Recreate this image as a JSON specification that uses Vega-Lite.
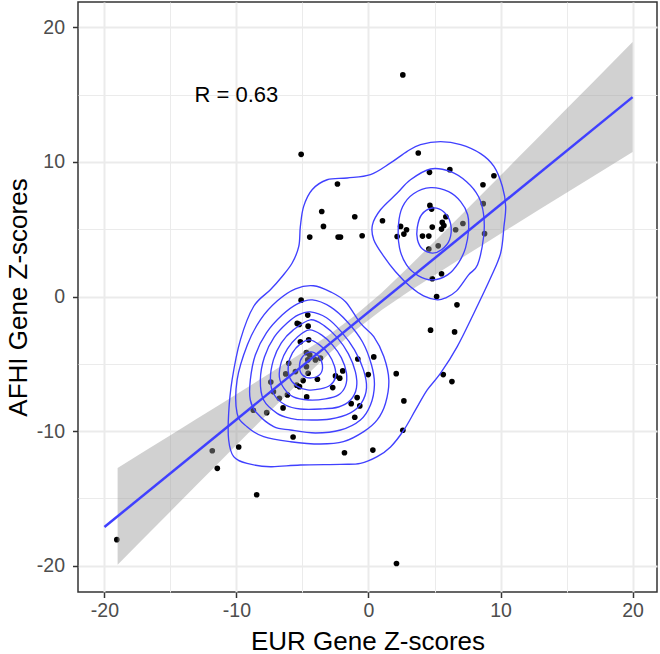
{
  "$schema": "https://vega.github.io/schema/vega-lite/v6.json",
  "width": 579,
  "height": 590,
  "autosize": "none",
  "padding": {"left": 78, "top": 2, "right": 3, "bottom": 62},
  "background": "white",
  "config": {
    "view": {"stroke": "#333333", "strokeWidth": 1.5},
    "axis": {
      "domain": false,
      "gridColor": "#EBEBEB",
      "tickColor": "#333333",
      "tickWidth": 1.5,
      "tickSize": 5.5,
      "labelFont": "Liberation Sans",
      "labelFontSize": 19.5,
      "labelColor": "#4D4D4D",
      "titleFont": "Liberation Sans",
      "titleFontSize": 26,
      "titleFontWeight": "normal",
      "titleColor": "#000000"
    }
  },
  "datasets": {
    "pts": [
      {"x": -19.06, "y": -18.07}, {"x": -11.83, "y": -11.46}, {"x": -11.45, "y": -12.77}, {"x": -9.83, "y": -11.18},
      {"x": -8.47, "y": -14.73}, {"x": -8.72, "y": -8.45}, {"x": -7.71, "y": -8.63}, {"x": -7.4, "y": -6.35},
      {"x": -7.2, "y": -7.07}, {"x": -6.75, "y": -7.56}, {"x": -6.47, "y": -8.28}, {"x": -6.14, "y": -7.31},
      {"x": -5.1, "y": -0.27}, {"x": -4.6, "y": -1.38}, {"x": -5.25, "y": -2.07}, {"x": -5.4, "y": -2.0},
      {"x": -4.57, "y": -2.2}, {"x": -5.16, "y": -3.37}, {"x": -4.53, "y": -3.22}, {"x": -4.7, "y": -4.17},
      {"x": -4.45, "y": -4.34}, {"x": -4.02, "y": -4.71}, {"x": -3.64, "y": -4.58}, {"x": -4.6, "y": -4.71},
      {"x": -4.7, "y": -5.21}, {"x": -4.57, "y": -5.7}, {"x": -6.04, "y": -4.96}, {"x": -5.53, "y": -5.58},
      {"x": -6.27, "y": -5.75}, {"x": -4.95, "y": -6.25}, {"x": -5.44, "y": -6.59}, {"x": -5.23, "y": -6.7},
      {"x": -3.87, "y": -6.15}, {"x": -4.68, "y": -7.46}, {"x": -2.71, "y": -6.77}, {"x": -2.5, "y": -5.9},
      {"x": -2.18, "y": -6.07}, {"x": -1.95, "y": -5.53}, {"x": -0.81, "y": -4.64}, {"x": 0.4, "y": -4.49},
      {"x": -0.02, "y": -5.8}, {"x": 2.1, "y": -5.73}, {"x": -0.86, "y": -7.51}, {"x": -1.31, "y": -7.96},
      {"x": -0.66, "y": -8.13}, {"x": -1.04, "y": -8.97}, {"x": -5.71, "y": -10.44}, {"x": -1.82, "y": -11.61},
      {"x": 0.33, "y": -11.41}, {"x": 2.12, "y": -19.84}, {"x": 5.16, "y": 0.0}, {"x": 6.7, "y": -0.62},
      {"x": 4.7, "y": -2.5}, {"x": 6.52, "y": -2.63}, {"x": 5.66, "y": -5.8}, {"x": 6.32, "y": -6.32},
      {"x": 2.68, "y": -7.76}, {"x": 2.6, "y": -9.94}, {"x": 3.77, "y": 10.67}, {"x": 4.62, "y": 9.23},
      {"x": 6.16, "y": 9.43}, {"x": 9.5, "y": 8.98}, {"x": 8.67, "y": 8.31}, {"x": 8.69, "y": 6.9},
      {"x": 8.79, "y": 4.67}, {"x": 7.15, "y": 5.43}, {"x": 4.65, "y": 6.77}, {"x": 4.78, "y": 6.5},
      {"x": 5.86, "y": 5.93}, {"x": 5.59, "y": 5.51}, {"x": 5.71, "y": 5.28}, {"x": 5.53, "y": 5.01},
      {"x": 4.83, "y": 5.16}, {"x": 6.6, "y": 4.96}, {"x": 4.09, "y": 4.49}, {"x": 4.57, "y": 4.49},
      {"x": 5.28, "y": 3.77}, {"x": 4.57, "y": 3.53}, {"x": 5.53, "y": 1.69}, {"x": 4.83, "y": 1.32},
      {"x": 1.06, "y": 5.63}, {"x": 2.43, "y": 5.21}, {"x": 2.88, "y": 4.96}, {"x": 2.17, "y": 4.46},
      {"x": 2.68, "y": 4.64}, {"x": -0.48, "y": 4.52}, {"x": -5.1, "y": 10.57}, {"x": -2.35, "y": 8.36},
      {"x": -3.54, "y": 6.32}, {"x": -3.41, "y": 5.21}, {"x": -1.04, "y": 5.93}, {"x": -4.45, "y": 4.42},
      {"x": -2.3, "y": 4.42}, {"x": -2.12, "y": 4.42}, {"x": 2.6, "y": 16.47}
    ],
    "band": [
      {"x": -19, "y": -19.94, "y2": -12.74}, {"x": -17, "y": -17.95, "y2": -11.52}, {"x": -15, "y": -15.97, "y2": -10.31},
      {"x": -13, "y": -13.99, "y2": -9.09}, {"x": -11, "y": -12.02, "y2": -7.87}, {"x": -9, "y": -10.05, "y2": -6.65},
      {"x": -7, "y": -8.08, "y2": -5.41}, {"x": -5, "y": -6.14, "y2": -4.16}, {"x": -3, "y": -4.25, "y2": -2.85},
      {"x": -1, "y": -2.5, "y2": -1.4}, {"x": 1, "y": -1.0, "y2": 0.29}, {"x": 3, "y": 0.33, "y2": 2.16},
      {"x": 5, "y": 1.59, "y2": 4.09}, {"x": 7, "y": 2.83, "y2": 6.05}, {"x": 9, "y": 4.06, "y2": 8.01},
      {"x": 11, "y": 5.28, "y2": 9.99}, {"x": 13, "y": 6.5, "y2": 11.97}, {"x": 15, "y": 7.71, "y2": 13.95},
      {"x": 17, "y": 8.93, "y2": 15.93}, {"x": 20, "y": 10.74, "y2": 18.91}
    ],
    "fit": [{"x": -20, "y": -17.13}, {"x": 20, "y": 14.82}],
    "contours": [
      {"ring": "outer", "k": 1, "x": -7.43, "y": 0.5}, {"ring": "outer", "k": 2, "x": -8.7, "y": -0.74},
      {"ring": "outer", "k": 3, "x": -9.7, "y": -3.22}, {"ring": "outer", "k": 4, "x": -10.33, "y": -6.2},
      {"ring": "outer", "k": 5, "x": -10.59, "y": -8.68}, {"ring": "outer", "k": 6, "x": -10.59, "y": -10.66},
      {"ring": "outer", "k": 7, "x": -10.21, "y": -11.9}, {"ring": "outer", "k": 8, "x": -9.2, "y": -12.4},
      {"ring": "outer", "k": 9, "x": -7.43, "y": -12.65}, {"ring": "outer", "k": 10, "x": -5.16, "y": -12.52},
      {"ring": "outer", "k": 11, "x": -2.12, "y": -12.47}, {"ring": "outer", "k": 12, "x": -0.61, "y": -12.4},
      {"ring": "outer", "k": 13, "x": 0.66, "y": -11.9}, {"ring": "outer", "k": 14, "x": 1.67, "y": -11.18},
      {"ring": "outer", "k": 15, "x": 2.68, "y": -9.92}, {"ring": "outer", "k": 16, "x": 3.56, "y": -8.43},
      {"ring": "outer", "k": 17, "x": 4.45, "y": -6.94}, {"ring": "outer", "k": 18, "x": 5.46, "y": -5.7},
      {"ring": "outer", "k": 19, "x": 6.72, "y": -3.72}, {"ring": "outer", "k": 20, "x": 7.98, "y": -1.24},
      {"ring": "outer", "k": 21, "x": 9.25, "y": 1.39}, {"ring": "outer", "k": 22, "x": 10.01, "y": 3.23},
      {"ring": "outer", "k": 23, "x": 10.26, "y": 5.21}, {"ring": "outer", "k": 24, "x": 10.39, "y": 6.7},
      {"ring": "outer", "k": 25, "x": 10.14, "y": 8.18}, {"ring": "outer", "k": 26, "x": 9.5, "y": 9.67},
      {"ring": "outer", "k": 27, "x": 8.49, "y": 10.62}, {"ring": "outer", "k": 28, "x": 6.98, "y": 11.29},
      {"ring": "outer", "k": 29, "x": 5.46, "y": 11.51}, {"ring": "outer", "k": 30, "x": 3.94, "y": 11.29},
      {"ring": "outer", "k": 31, "x": 2.93, "y": 10.79}, {"ring": "outer", "k": 32, "x": 1.67, "y": 9.93},
      {"ring": "outer", "k": 33, "x": 0.15, "y": 9.06}, {"ring": "outer", "k": 34, "x": -1.61, "y": 8.81},
      {"ring": "outer", "k": 35, "x": -3.13, "y": 8.68}, {"ring": "outer", "k": 36, "x": -4.27, "y": 7.94},
      {"ring": "outer", "k": 37, "x": -4.91, "y": 6.7}, {"ring": "outer", "k": 38, "x": -5.16, "y": 5.21},
      {"ring": "outer", "k": 39, "x": -5.28, "y": 3.72}, {"ring": "outer", "k": 40, "x": -5.78, "y": 2.49},
      {"ring": "outer", "k": 41, "x": -6.54, "y": 1.49},

      {"ring": "A", "k": 1, "x": -4.17, "y": 0.8}, {"ring": "A", "k": 2, "x": -2.88, "y": 0.35},
      {"ring": "A", "k": 3, "x": -1.74, "y": -0.39}, {"ring": "A", "k": 4, "x": -0.61, "y": -1.98},
      {"ring": "A", "k": 5, "x": 0.4, "y": -2.98}, {"ring": "A", "k": 6, "x": 1.16, "y": -4.46},
      {"ring": "A", "k": 7, "x": 1.54, "y": -6.2}, {"ring": "A", "k": 8, "x": 1.29, "y": -7.93},
      {"ring": "A", "k": 9, "x": 0.66, "y": -9.17}, {"ring": "A", "k": 10, "x": -0.36, "y": -10.04},
      {"ring": "A", "k": 11, "x": -1.9, "y": -10.79}, {"ring": "A", "k": 12, "x": -3.64, "y": -10.96},
      {"ring": "A", "k": 13, "x": -5.91, "y": -10.79}, {"ring": "A", "k": 14, "x": -7.94, "y": -10.42},
      {"ring": "A", "k": 15, "x": -9.2, "y": -9.67}, {"ring": "A", "k": 16, "x": -9.95, "y": -8.68},
      {"ring": "A", "k": 17, "x": -9.95, "y": -6.2}, {"ring": "A", "k": 18, "x": -9.17, "y": -3.59},
      {"ring": "A", "k": 19, "x": -8.19, "y": -1.73}, {"ring": "A", "k": 20, "x": -6.9, "y": -0.32},
      {"ring": "A", "k": 21, "x": -5.53, "y": 0.57},

      {"ring": "B", "k": 1, "x": -4.25, "y": -0.25}, {"ring": "B", "k": 2, "x": -2.88, "y": -0.77},
      {"ring": "B", "k": 3, "x": -1.59, "y": -1.89}, {"ring": "B", "k": 4, "x": -0.45, "y": -3.38},
      {"ring": "B", "k": 5, "x": 0.23, "y": -5.09}, {"ring": "B", "k": 6, "x": 0.45, "y": -6.57},
      {"ring": "B", "k": 7, "x": 0.15, "y": -8.06}, {"ring": "B", "k": 8, "x": -0.61, "y": -9.17},
      {"ring": "B", "k": 9, "x": -2.12, "y": -9.92}, {"ring": "B", "k": 10, "x": -4.02, "y": -10.14},
      {"ring": "B", "k": 11, "x": -5.91, "y": -9.92}, {"ring": "B", "k": 12, "x": -7.18, "y": -9.67},
      {"ring": "B", "k": 13, "x": -8.44, "y": -8.68}, {"ring": "B", "k": 14, "x": -8.95, "y": -7.69},
      {"ring": "B", "k": 15, "x": -8.95, "y": -6.2}, {"ring": "B", "k": 16, "x": -8.57, "y": -4.34},
      {"ring": "B", "k": 17, "x": -7.73, "y": -2.7}, {"ring": "B", "k": 18, "x": -6.52, "y": -1.36},
      {"ring": "B", "k": 19, "x": -5.38, "y": -0.54},

      {"ring": "C", "k": 1, "x": -4.4, "y": -1.14}, {"ring": "C", "k": 2, "x": -3.18, "y": -1.58},
      {"ring": "C", "k": 3, "x": -2.05, "y": -2.63}, {"ring": "C", "k": 4, "x": -1.06, "y": -3.97},
      {"ring": "C", "k": 5, "x": -0.38, "y": -5.45}, {"ring": "C", "k": 6, "x": -0.15, "y": -6.79},
      {"ring": "C", "k": 7, "x": -0.53, "y": -7.91}, {"ring": "C", "k": 8, "x": -1.36, "y": -8.65},
      {"ring": "C", "k": 9, "x": -2.88, "y": -9.1}, {"ring": "C", "k": 10, "x": -4.78, "y": -9.17},
      {"ring": "C", "k": 11, "x": -5.91, "y": -9.05}, {"ring": "C", "k": 12, "x": -6.92, "y": -8.68},
      {"ring": "C", "k": 13, "x": -7.94, "y": -7.69}, {"ring": "C", "k": 14, "x": -8.19, "y": -6.2},
      {"ring": "C", "k": 15, "x": -7.88, "y": -4.49}, {"ring": "C", "k": 16, "x": -7.13, "y": -3.0},
      {"ring": "C", "k": 17, "x": -6.14, "y": -1.95}, {"ring": "C", "k": 18, "x": -5.31, "y": -1.36},

      {"ring": "D", "k": 1, "x": -4.4, "y": -1.73}, {"ring": "D", "k": 2, "x": -3.34, "y": -2.18},
      {"ring": "D", "k": 3, "x": -2.35, "y": -3.07}, {"ring": "D", "k": 4, "x": -1.52, "y": -4.26},
      {"ring": "D", "k": 5, "x": -0.99, "y": -5.6}, {"ring": "D", "k": 6, "x": -0.91, "y": -6.79},
      {"ring": "D", "k": 7, "x": -1.36, "y": -7.69}, {"ring": "D", "k": 8, "x": -2.27, "y": -8.21},
      {"ring": "D", "k": 9, "x": -3.64, "y": -8.36}, {"ring": "D", "k": 10, "x": -5.16, "y": -8.36},
      {"ring": "D", "k": 11, "x": -6.29, "y": -8.06}, {"ring": "D", "k": 12, "x": -7.13, "y": -7.32},
      {"ring": "D", "k": 13, "x": -7.43, "y": -6.2}, {"ring": "D", "k": 14, "x": -7.2, "y": -4.71},
      {"ring": "D", "k": 15, "x": -6.6, "y": -3.44}, {"ring": "D", "k": 16, "x": -5.69, "y": -2.48},

      {"ring": "E", "k": 1, "x": -4.47, "y": -2.48}, {"ring": "E", "k": 2, "x": -3.56, "y": -2.85},
      {"ring": "E", "k": 3, "x": -2.73, "y": -3.59}, {"ring": "E", "k": 4, "x": -2.05, "y": -4.56},
      {"ring": "E", "k": 5, "x": -1.67, "y": -5.68}, {"ring": "E", "k": 6, "x": -1.74, "y": -6.64},
      {"ring": "E", "k": 7, "x": -2.27, "y": -7.31}, {"ring": "E", "k": 8, "x": -3.26, "y": -7.61},
      {"ring": "E", "k": 9, "x": -4.55, "y": -7.69}, {"ring": "E", "k": 10, "x": -5.69, "y": -7.46},
      {"ring": "E", "k": 11, "x": -6.37, "y": -6.87}, {"ring": "E", "k": 12, "x": -6.75, "y": -5.98},
      {"ring": "E", "k": 13, "x": -6.6, "y": -4.86}, {"ring": "E", "k": 14, "x": -6.14, "y": -3.89},
      {"ring": "E", "k": 15, "x": -5.38, "y": -3.0},

      {"ring": "F", "k": 1, "x": -4.47, "y": -3.22}, {"ring": "F", "k": 2, "x": -3.71, "y": -3.59},
      {"ring": "F", "k": 3, "x": -3.03, "y": -4.26}, {"ring": "F", "k": 4, "x": -2.58, "y": -5.16},
      {"ring": "F", "k": 5, "x": -2.5, "y": -5.98}, {"ring": "F", "k": 6, "x": -2.88, "y": -6.57},
      {"ring": "F", "k": 7, "x": -3.64, "y": -6.87}, {"ring": "F", "k": 8, "x": -4.62, "y": -6.94},
      {"ring": "F", "k": 9, "x": -5.46, "y": -6.64}, {"ring": "F", "k": 10, "x": -5.99, "y": -5.98},
      {"ring": "F", "k": 11, "x": -6.07, "y": -5.08}, {"ring": "F", "k": 12, "x": -5.76, "y": -4.19},
      {"ring": "F", "k": 13, "x": -5.16, "y": -3.52},

      {"ring": "G", "k": 1, "x": -4.4, "y": -4.11}, {"ring": "G", "k": 2, "x": -3.79, "y": -4.41},
      {"ring": "G", "k": 3, "x": -3.49, "y": -5.08}, {"ring": "G", "k": 4, "x": -3.64, "y": -5.75},
      {"ring": "G", "k": 5, "x": -4.32, "y": -6.05}, {"ring": "G", "k": 6, "x": -5.0, "y": -5.83},
      {"ring": "G", "k": 7, "x": -5.23, "y": -5.16}, {"ring": "G", "k": 8, "x": -5.0, "y": -4.49},

      {"ring": "U1", "k": 1, "x": 0.91, "y": 6.45}, {"ring": "U1", "k": 2, "x": 2.18, "y": 7.69},
      {"ring": "U1", "k": 3, "x": 3.18, "y": 8.68}, {"ring": "U1", "k": 4, "x": 4.7, "y": 9.48},
      {"ring": "U1", "k": 5, "x": 6.22, "y": 9.28}, {"ring": "U1", "k": 6, "x": 7.43, "y": 8.53},
      {"ring": "U1", "k": 7, "x": 8.34, "y": 7.42}, {"ring": "U1", "k": 8, "x": 8.72, "y": 6.08},
      {"ring": "U1", "k": 9, "x": 8.72, "y": 4.44}, {"ring": "U1", "k": 10, "x": 8.26, "y": 2.36},
      {"ring": "U1", "k": 11, "x": 7.58, "y": 1.61}, {"ring": "U1", "k": 12, "x": 6.67, "y": 0.42},
      {"ring": "U1", "k": 13, "x": 5.84, "y": -0.1}, {"ring": "U1", "k": 14, "x": 5.21, "y": -0.25},
      {"ring": "U1", "k": 15, "x": 4.17, "y": 0.05}, {"ring": "U1", "k": 16, "x": 3.18, "y": 0.72},
      {"ring": "U1", "k": 17, "x": 2.05, "y": 1.84}, {"ring": "U1", "k": 18, "x": 1.16, "y": 2.98},
      {"ring": "U1", "k": 19, "x": 0.4, "y": 4.22}, {"ring": "U1", "k": 20, "x": 0.3, "y": 5.33},

      {"ring": "U2", "k": 1, "x": 2.27, "y": 5.33}, {"ring": "U2", "k": 2, "x": 2.58, "y": 6.67},
      {"ring": "U2", "k": 3, "x": 3.41, "y": 7.64}, {"ring": "U2", "k": 4, "x": 4.7, "y": 8.09},
      {"ring": "U2", "k": 5, "x": 6.07, "y": 7.79}, {"ring": "U2", "k": 6, "x": 6.98, "y": 7.05},
      {"ring": "U2", "k": 7, "x": 7.51, "y": 6.08}, {"ring": "U2", "k": 8, "x": 7.58, "y": 4.96},
      {"ring": "U2", "k": 9, "x": 7.35, "y": 3.62}, {"ring": "U2", "k": 10, "x": 6.82, "y": 2.51},
      {"ring": "U2", "k": 11, "x": 5.99, "y": 1.61}, {"ring": "U2", "k": 12, "x": 4.85, "y": 1.24},
      {"ring": "U2", "k": 13, "x": 3.79, "y": 1.54}, {"ring": "U2", "k": 14, "x": 2.88, "y": 2.36},
      {"ring": "U2", "k": 15, "x": 2.35, "y": 3.62},

      {"ring": "U3", "k": 1, "x": 3.69, "y": 5.11}, {"ring": "U3", "k": 2, "x": 4.02, "y": 6.08},
      {"ring": "U3", "k": 3, "x": 4.83, "y": 6.58}, {"ring": "U3", "k": 4, "x": 5.69, "y": 6.3},
      {"ring": "U3", "k": 5, "x": 6.22, "y": 5.41}, {"ring": "U3", "k": 6, "x": 6.14, "y": 4.22},
      {"ring": "U3", "k": 7, "x": 5.53, "y": 3.48}, {"ring": "U3", "k": 8, "x": 4.83, "y": 3.23},
      {"ring": "U3", "k": 9, "x": 4.09, "y": 3.53}, {"ring": "U3", "k": 10, "x": 3.71, "y": 4.22}
    ],
    "note": [{"x": -10, "y": 15, "label": "R = 0.63"}]
  },
  "encoding": {
    "x": {
      "field": "x", "type": "quantitative",
      "scale": {"domain": [-22, 21.85], "nice": false, "zero": false},
      "axis": {
        "title": "EUR Gene Z-scores",
        "values": [-20, -15, -10, -5, 0, 5, 10, 15, 20],
        "labelExpr": "datum.value % 10 === 0 ? '' + datum.value : ''",
        "gridWidth": {"condition": {"test": "datum.value % 10 === 0", "value": 2}, "value": 1},
        "tickOpacity": {"condition": {"test": "datum.value % 10 === 0", "value": 1}, "value": 0},
        "labelPadding": 4,
        "titlePadding": 8
      }
    },
    "y": {
      "field": "y", "type": "quantitative",
      "scale": {"domain": [-21.96, 21.89], "nice": false, "zero": false},
      "axis": {
        "title": "AFHI Gene Z-scores",
        "values": [-20, -15, -10, -5, 0, 5, 10, 15, 20],
        "labelExpr": "datum.value % 10 === 0 ? '' + datum.value : ''",
        "gridWidth": {"condition": {"test": "datum.value % 10 === 0", "value": 2}, "value": 1},
        "tickOpacity": {"condition": {"test": "datum.value % 10 === 0", "value": 1}, "value": 0},
        "labelPadding": 8,
        "titlePadding": 5
      }
    }
  },
  "layer": [
    {
      "data": {"name": "pts"},
      "mark": {"type": "circle", "size": 32, "color": "#000000", "opacity": 1}
    },
    {
      "data": {"name": "band"},
      "mark": {"type": "area", "color": "#999999", "opacity": 0.45},
      "encoding": {"y2": {"field": "y2"}}
    },
    {
      "data": {"name": "fit"},
      "mark": {"type": "line", "color": "#4040FF", "strokeWidth": 2.5},
      "encoding": {}
    },
    {
      "data": {"name": "contours"},
      "mark": {"type": "line", "color": "#4040FF", "strokeWidth": 1.35, "interpolate": "cardinal-closed"},
      "encoding": {
        "detail": {"field": "ring", "type": "nominal"},
        "order": {"field": "k", "type": "quantitative"}
      }
    },
    {
      "data": {"name": "note"},
      "mark": {"type": "text", "font": "Liberation Sans", "fontSize": 22, "color": "#000000", "align": "center", "baseline": "middle"},
      "encoding": {"text": {"field": "label"}}
    }
  ]
}
